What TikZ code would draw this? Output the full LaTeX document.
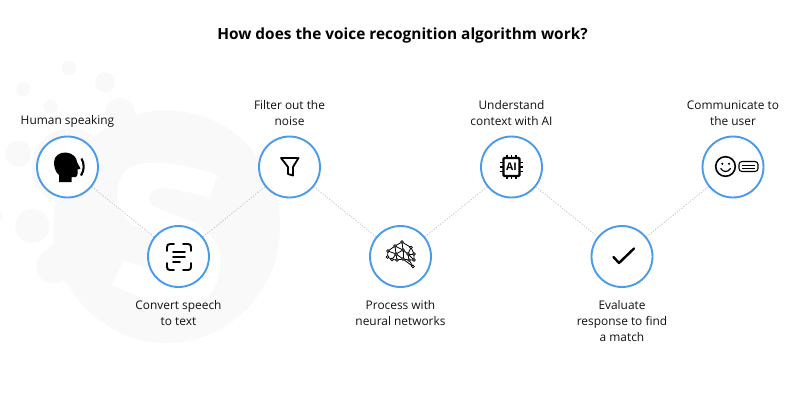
\documentclass[tikz,border=0pt]{standalone}
\usepackage{fontspec}
\setmainfont{Open Sans}
\definecolor{ringblue}{HTML}{4A9BE8}
\definecolor{wm}{HTML}{F9F9F9}
\definecolor{dotgrey}{HTML}{C4C4C4}
\definecolor{ink}{HTML}{111111}
\tikzset{
  stepcircle/.style={circle,draw=ringblue,line width=1.9pt,fill=white,minimum size=61pt,inner sep=0pt},
  steplabel/.style={font=\fontsize{11.9}{16}\selectfont,text=ink,align=center,inner sep=0pt},
  link/.style={draw=dotgrey,line width=0.8pt,dash pattern=on 1.2pt off 1.6pt},
  icon/.style={line width=1.9pt,draw=black,line cap=round,line join=round},
  thinicon/.style={line width=0.8pt,draw=black},
}
\begin{document}
\begin{tikzpicture}[x=1pt,y=-1pt]
\useasboundingbox (0,0) rectangle (800,400);
\fill[white] (0,0) rectangle (800,400);
% watermark
\begin{scope}[shift={(0,50)},x=0.3333pt,y=-0.3333pt]
\fill[wm] (207,54) circle (22);
\fill[wm] (315,97) circle (30);
\fill[wm] (70,118) circle (21);
\fill[wm] (152,170) circle (21);
\fill[wm] (55,311) circle (39);
\fill[wm] (97,528) circle (51);
\fill[wm] (-15,500) circle (22);
\fill[wm] (360,190) circle (46);
\fill[wm] (160,650) circle (51);
\fill[wm] (210,350) circle (115);
\fill[wm] (500,530) ellipse (340 and 349);
\fill[wm] (130,430) -- (200,480) -- (190,560) -- (140,600) -- (200,700) -- (300,600) -- (300,400) -- cycle;
\fill[white] (653,375) .. controls (570,345) and (480,335) .. (430,340)
  .. controls (370,345) and (345,400) .. (352,455)
  .. controls (360,510) and (420,540) .. (480,565)
  .. controls (510,580) and (535,600) .. (530,640)
  .. controls (490,665) and (420,650) .. (372,632)
  -- (335,705)
  .. controls (420,745) and (510,775) .. (580,770)
  .. controls (640,750) and (665,680) .. (660,620)
  .. controls (650,540) and (570,510) .. (510,490)
  .. controls (470,475) and (445,465) .. (447,440)
  .. controls (450,415) and (490,410) .. (530,418)
  -- (630,443) -- cycle;
\end{scope}
% title
\node[font=\fontsize{15.4}{18}\selectfont\bfseries,text=black,inner sep=0pt] (title) at (402.5,35.5) {How does the voice recognition algorithm work?};
% circles
\node[stepcircle] (a) at (67.5,167) {};
\node[stepcircle] (b) at (178.5,256.5) {};
\node[stepcircle] (c) at (289.5,167) {};
\node[stepcircle] (d) at (400.5,256.5) {};
\node[stepcircle] (e) at (511.5,167) {};
\node[stepcircle] (f) at (622,256.5) {};
\node[stepcircle] (g) at (733,167) {};
\foreach \p/\q in {a/b,b/c,c/d,d/e,e/f,f/g}{\draw[link] (\p) -- (\q);}
% labels
\node[steplabel] (la) at (67.5,121) {Human speaking};
\node[steplabel] (lb) at (178.5,313) {Convert speech\\to text};
\node[steplabel] (lc) at (289.5,113) {Filter out the\\noise};
\node[steplabel] (ld) at (400.5,313) {Process with\\neural networks};
\node[steplabel] (le) at (511.5,113) {Understand\\context with AI};
\node[steplabel] (lf) at (622,321) {Evaluate\\response to find\\a match};
\node[steplabel] (lg) at (733,113) {Communicate to\\the user};
% head icon
\begin{scope}[shift={(30,130)}]
\fill[black] (29,52) -- (29,45) .. controls (25,42) and (24,36) .. (24,32) .. controls (24,26) and (30,22) .. (36,22.5) .. controls (43,23) and (47,28) .. (47,32) -- (50.5,38.5) -- (47.5,39.5) -- (47.5,44) .. controls (47,47.5) and (45,47.5) .. (41.5,47) -- (41.5,52) -- cycle;
\draw[line width=2.1pt,black] (51.5,28.5) .. controls (54.5,34) and (54.5,40) .. (51,45.5);
\end{scope}
% scan icon
\begin{scope}[shift={(143,222)},icon]
\draw (24,29) -- (24,25) .. controls (24,23) and (25,22) .. (27,22) -- (31,22);
\draw (40,22) -- (45,22) .. controls (47,22) and (48,23) .. (48,25) -- (48,29);
\draw (24,41) -- (24,45) .. controls (24,47) and (25,48) .. (27,48) -- (31,48);
\draw (40,48) -- (45,48) .. controls (47,48) and (48,47) .. (48,45) -- (48,41);
\draw (30,30) -- (42,30);
\draw (30,35) -- (42,35);
\draw (30,40) -- (37,40);
\end{scope}
% funnel icon
\begin{scope}[shift={(255,133)}]
\draw[line width=1.8pt,black,line join=round] (26,25) -- (43.5,25) -- (38,34) -- (38,42.5) -- (33,41) -- (33,34) -- cycle;
\end{scope}
% brain network icon
\begin{scope}[shift={(365,222)},thinicon]
\foreach \n/\x/\y in {n1/23/29,n2/30/24,n3/37/20,n4/46/25.5,n5/49/32,n6/22.5/35,n7/31/32,n8/38/28,n9/43/32,n10/49/38,n12/27/37.5,n13/32/38,n14/38/37,n15/44/38,n16/48/44.5}{
  \coordinate (\n) at (\x,\y);
}
\draw (n1)--(n2)--(n3)--(n4)--(n5)--(n10)--(n15)--(n14)--(n13)--(n12)--(n6)--(n1);
\draw (n2)--(n7)--(n1); \draw (n2)--(n8)--(n3); \draw (n7)--(n8)--(n9)--(n4);
\draw (n7)--(n13); \draw (n7)--(n12); \draw (n8)--(n14); \draw (n9)--(n15); \draw (n9)--(n5); \draw (n9)--(n10); \draw (n14)--(n16); \draw (n15)--(n16); \draw (n7)--(n14);
\foreach \n in {n1,n2,n3,n4,n5,n6,n7,n8,n9,n10,n12,n13,n14,n15,n16}{\filldraw[fill=white] (\n) circle (1.4);}
\end{scope}
% chip icon
\begin{scope}[shift={(476,133)}]
\foreach \i in {31,35.5,40}{
  \draw[line width=1.4pt,black] (\i,21.5) -- (\i,46);
}
\foreach \i in {29.5,34,38.5}{
  \draw[line width=1.4pt,black] (24,\i) -- (47,\i);
}
\draw[line width=2.2pt,black,fill=white,rounded corners=1pt] (27.5,25) rectangle (43.5,43);
\node[font=\fontsize{10.5}{10}\selectfont\bfseries,text=black,inner sep=0pt] (ai) at (35.5,34) {AI};
\end{scope}
% check icon
\begin{scope}[shift={(587,222)}]
\draw[line width=2.4pt,black,line cap=round,line join=round] (26.5,35) -- (32,41) -- (47,26.5);
\end{scope}
% smiley + message icon
\begin{scope}[shift={(698,133)}]
\draw[line width=1.6pt,black] (27.5,33.5) circle (9.8);
\fill[black] (24.3,30.8) circle (1.2);
\fill[black] (31,30.8) circle (1.2);
\draw[line width=1.2pt,black,line cap=round] (22.7,35.5) .. controls (25,39.5) and (30,39.5) .. (32.5,35.5);
\draw[line width=1.1pt,black,rounded corners=3pt] (41,28.5) rectangle (60,38.5);
\draw[line width=0.9pt,black] (44,32) -- (57,32);
\draw[line width=0.9pt,black] (44,35) -- (57,35);
\end{scope}
\end{tikzpicture}
\end{document}
